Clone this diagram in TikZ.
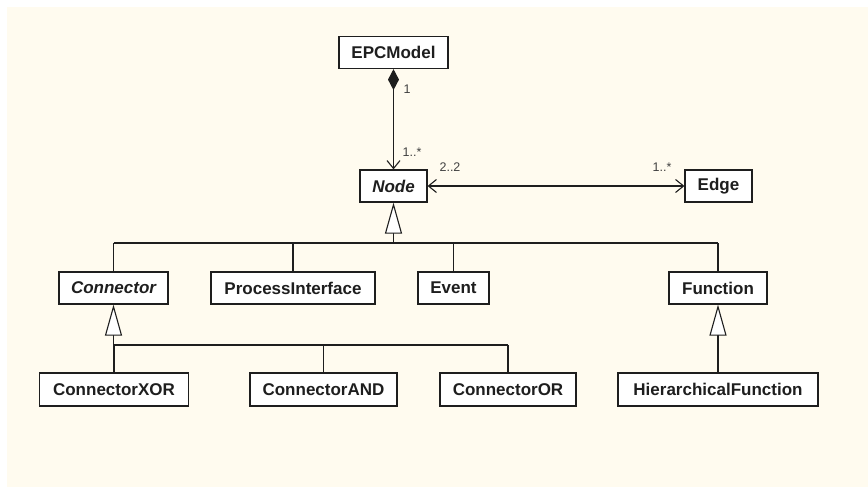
\documentclass[tikz,border=0pt]{standalone}
\usepackage{fontspec}
\setmainfont{Liberation Sans}
\usetikzlibrary{arrows.meta}
\definecolor{paper}{HTML}{FFFBEF}
\definecolor{ink}{HTML}{1E1E1E}
\begin{document}
\begin{tikzpicture}[x=1pt,y=-1pt,
  cls/.style={draw=ink, fill=white, line width=1.2pt, inner sep=0pt,
    minimum height=32pt, text=ink,
    font=\fontsize{17pt}{20pt}\selectfont\bfseries},
  abstract/.style={cls, font=\fontsize{17pt}{20pt}\selectfont\bfseries\itshape},
  mult/.style={text=ink!85, font=\fontsize{12.5pt}{14pt}\selectfont, inner sep=0pt},
  link/.style={draw=ink, line width=1.1pt},
  gen/.style={link, -{Triangle[open, length=31pt, width=17pt, fill=white]}},
  nav/.style={{Straight Barb[length=8pt, width=13pt]}},
]
\useasboundingbox (0,0) rectangle (868,487);
\fill[white] (0,0) rectangle (868,487);
\fill[paper] (7,7) rectangle (868,487);

% classes
\node[cls, minimum width=109pt] (model) at (393.5,52.5) {EPCModel};
\node[abstract, minimum width=67pt] (node) at (393.5,186) {Node};
\node[cls, minimum width=67pt] (edge) at (718.5,186) {Edge};

\node[abstract, minimum width=109pt] (conn) at (113.5,288) {Connector};
\node[cls, minimum width=164pt] (pi) at (293,288) {ProcessInterface};
\node[cls, minimum width=71pt] (event) at (453.5,288) {Event};
\node[cls, minimum width=98pt] (func) at (718,288) {Function};

\node[cls, minimum width=149pt, minimum height=33pt] (xor) at (114,389.5) {ConnectorXOR};
\node[cls, minimum width=147pt, minimum height=33pt] (and) at (323.5,389.5) {ConnectorAND};
\node[cls, minimum width=136pt, minimum height=33pt] (or) at (508,389.5) {ConnectorOR};
\node[cls, minimum width=200pt, minimum height=33pt] (hf) at (718,389.5) {HierarchicalFunction};

% composition EPCModel -> Node
\draw[link, {Diamond[length=21pt, width=11pt, fill=ink]}-{Straight Barb[length=8pt, width=13pt]}]
  (model.south) -- (node.north);
\node[mult] (m1) at (407,89) {1};
\node[mult] (m2) at (412,152) {1..*};

% association Node <-> Edge
\draw[link, {Straight Barb[length=8pt, width=13pt]}-{Straight Barb[length=8pt, width=13pt]}]
  (node.east) -- (edge.west);
\node[mult] (m3) at (450,167) {2..2};
\node[mult] (m4) at (662,167) {1..*};

% generalization of Node
\coordinate (nbus) at (393.5,243);
\draw[gen] (nbus) -- (node.south);
\draw[link] (conn.north |- nbus) -- (func.north |- nbus);
\draw[link] (conn.north) -- (conn.north |- nbus);
\draw[link] (pi.north) -- (pi.north |- nbus);
\draw[link] (event.north) -- (event.north |- nbus);
\draw[link] (func.north) -- (func.north |- nbus);

% generalization of Connector
\coordinate (cbus) at (113.5,345);
\draw[gen] (cbus) -- (conn.south);
\draw[link] (cbus) -- (or.north |- cbus);
\draw[link] (xor.north) -- (xor.north |- cbus);
\draw[link] (and.north) -- (and.north |- cbus);
\draw[link] (or.north) -- (or.north |- cbus);

% generalization of Function
\draw[gen] (hf.north) -- (func.south);
\end{tikzpicture}
\end{document}
